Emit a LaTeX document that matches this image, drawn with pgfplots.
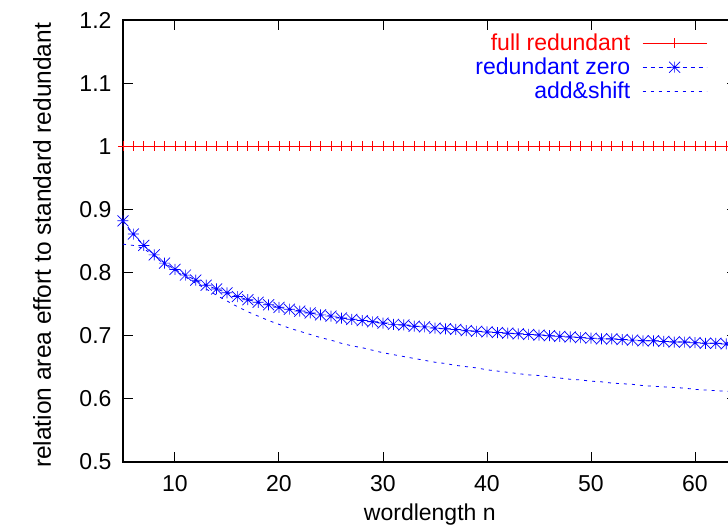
\documentclass[border=0pt]{standalone}
\usepackage{pgfplots}
\pgfplotsset{compat=1.18}
\usepackage{pgfplotstable}
\usepackage{fontspec}
\setmainfont{Liberation Sans}

% gnuplot-like star: + overlaid with x
\pgfdeclareplotmark{gstar}{%
  \pgfpathmoveto{\pgfqpoint{-\pgfplotmarksize}{0pt}}\pgfpathlineto{\pgfqpoint{\pgfplotmarksize}{0pt}}%
  \pgfpathmoveto{\pgfqpoint{0pt}{-\pgfplotmarksize}}\pgfpathlineto{\pgfqpoint{0pt}{\pgfplotmarksize}}%
  \pgfpathmoveto{\pgfqpoint{-\pgfplotmarksize}{-\pgfplotmarksize}}\pgfpathlineto{\pgfqpoint{\pgfplotmarksize}{\pgfplotmarksize}}%
  \pgfpathmoveto{\pgfqpoint{-\pgfplotmarksize}{\pgfplotmarksize}}\pgfpathlineto{\pgfqpoint{\pgfplotmarksize}{-\pgfplotmarksize}}%
  \pgfusepathqstroke}

\pgfplotstableread{
n  full rzero addshift
5  1 0.882 0.845
6  1 0.861 0.843
7  1 0.843 0.838
8  1 0.828 0.826
9  1 0.815 0.813
10 1 0.805 0.803
11 1 0.796 0.793
12 1 0.788 0.783
13 1 0.780 0.774
14 1 0.774 0.764
15 1 0.768 0.755
16 1 0.762 0.746
17 1 0.757 0.738
18 1 0.753 0.731
19 1 0.749 0.724
20 1 0.745 0.718
21 1 0.742 0.712
22 1 0.739 0.707
23 1 0.736 0.702
24 1 0.733 0.697
25 1 0.731 0.693
26 1 0.728 0.688
27 1 0.726 0.684
28 1 0.724 0.681
29 1 0.722 0.677
30 1 0.720 0.673
31 1 0.718 0.670
32 1 0.717 0.667
33 1 0.715 0.664
34 1 0.714 0.661
35 1 0.712 0.658
36 1 0.711 0.656
37 1 0.710 0.653
38 1 0.708 0.651
39 1 0.707 0.649
40 1 0.706 0.646
41 1 0.705 0.644
42 1 0.704 0.642
43 1 0.703 0.640
44 1 0.702 0.638
45 1 0.701 0.637
46 1 0.700 0.635
47 1 0.699 0.633
48 1 0.698 0.631
49 1 0.697 0.630
50 1 0.696 0.628
51 1 0.695 0.627
52 1 0.695 0.625
53 1 0.694 0.624
54 1 0.693 0.623
55 1 0.692 0.621
56 1 0.692 0.620
57 1 0.691 0.619
58 1 0.690 0.618
59 1 0.690 0.617
60 1 0.689 0.615
61 1 0.688 0.614
62 1 0.688 0.613
63 1 0.687 0.612
64 1 0.687 0.611
}\effort

\begin{document}
\begin{tikzpicture}
\begin{axis}[
    scale only axis,
    width=613.6pt, height=442pt,
    xmin=5, xmax=64,
    ymin=0.5, ymax=1.2,
    xtick={10,20,30,40,50,60},
    ytick={0.5,0.6,0.7,0.8,0.9,1,1.1,1.2},
    yticklabels={0.5,0.6,0.7,0.8,0.9,1,1.1,1.2},
    major tick length=10pt,
    axis line style={line width=1.2pt},
    every tick/.style={black, line width=1pt},
    tick label style={font=\fontsize{23}{27}\selectfont},
    /pgf/number format/assume math mode=true,
    yticklabel style={xshift=-8pt},
    xticklabel style={yshift=-10pt},
    xlabel={wordlength n},
    ylabel={relation area effort to standard redundant},
    every axis x label/.style={at={(axis description cs:0.5,-0.118)}, anchor=center, font=\fontsize{23}{27}\selectfont},
    every axis y label/.style={at={(axis description cs:-0.132,0.49)}, rotate=90, anchor=center, font=\fontsize{24.5}{28}\selectfont},
    clip mode=individual,
    legend style={
        at={(0.957,0.978)}, anchor=north east,
        draw=none, fill=none,
        font=\fontsize{23}{27}\selectfont,
        legend cell align=right,
        row sep=2pt,
        /tikz/every odd column/.append style={column sep=10pt},
    },
    legend plot pos=right,
    legend image code/.code={\draw[mark repeat=2,mark phase=2,#1] plot coordinates {(0pt,0pt) (32pt,0pt) (64pt,0pt)};},
]
\addplot[red, line width=0.8pt, mark=+, mark size=5pt, mark options={solid, line width=0.8pt}]
    table[x=n, y=full] {\effort};
\addlegendentry{\textcolor{red}{full redundant}}
\addplot[blue, line width=0.8pt, dash pattern=on 4pt off 4pt, mark=gstar, mark size=5.5pt, mark options={solid, line width=0.7pt}]
    table[x=n, y=rzero] {\effort};
\addlegendentry{\textcolor{blue}{redundant zero}}
\addplot[blue, line width=0.8pt, dash pattern=on 3pt off 5pt]
    table[x=n, y=addshift] {\effort};
\addlegendentry{\textcolor{blue}{add\&shift}}
\end{axis}
\pgfresetboundingbox
\path ([xshift=-123pt,yshift=-66pt]current axis.south west) rectangle ([xshift=605pt,yshift=462pt]current axis.south west);
\end{tikzpicture}
\end{document}
